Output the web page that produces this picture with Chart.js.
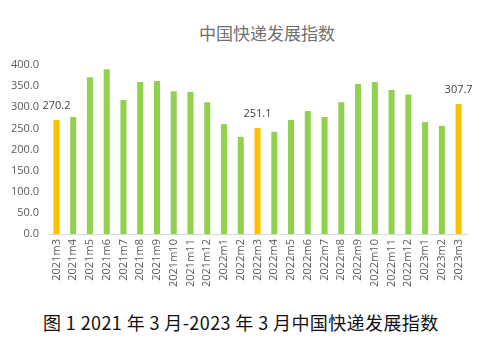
<!DOCTYPE html>
<html>
<head>
<meta charset="utf-8">
<script src="https://cdn.jsdelivr.net/npm/chart.js@4"></script>
<style>
  html, body { margin:0; padding:0; background:#fff; }
  #wrap { position:relative; width:494px; height:346px; overflow:hidden; }
  #box { position:absolute; left:0; top:0; width:494px; height:292px; }
  .ttl { position:absolute; left:0; width:100%; white-space:nowrap; font-family:"Noto Sans CJK SC", sans-serif; }
  #title { top:20px; padding-left:40px; box-sizing:border-box; text-align:center; font-size:17px; color:#707070; }
  #caption { top:309px; left:43px; font-size:18px; letter-spacing:0.4px; color:#111; }
</style>
</head>
<body>
<div id="wrap">
  <div id="title" class="ttl">中国快递发展指数</div>
  <div id="box"><canvas id="c"></canvas></div>
  <div id="caption" class="ttl">图 1 2021 年 3 月-2023 年 3 月中国快递发展指数</div>
</div>
<script>
// 月份标签
const months = [
  '2021m3','2021m4','2021m5','2021m6','2021m7','2021m8','2021m9','2021m10','2021m11','2021m12',
  '2022m1','2022m2','2022m3','2022m4','2022m5','2022m6','2022m7','2022m8','2022m9','2022m10',
  '2022m11','2022m12','2023m1','2023m2','2023m3'
];
// 快递发展指数
const indexValues = [
  270.2, 277, 371, 390, 317, 360, 362, 338, 336, 312,
  260, 230, 251.1, 242, 270, 291, 277, 312, 355, 360,
  341, 330, 265, 256, 307.7
];
// 每年3月高亮并标数值
const highlight = ['2021m3', '2022m3', '2023m3'];
const yTicks = [0, 50, 100, 150, 200, 250, 300, 350, 400];

const GREEN = '#92d050', GOLD = '#ffc000';
const barColors = months.map(m => highlight.includes(m) ? GOLD : GREEN);

// 只给高亮柱子写数值
const valueLabels = {
  id: 'valueLabels',
  afterDatasetsDraw(chart){
    const { ctx } = chart;
    const meta = chart.getDatasetMeta(0);
    ctx.save();
    ctx.font = '11px "Open Sans", sans-serif';
    ctx.fillStyle = '#404040';
    ctx.textAlign = 'center';
    ctx.textBaseline = 'middle';
    meta.data.forEach((bar, i) => {
      if (!highlight.includes(months[i])) return;
      ctx.fillText(indexValues[i].toFixed(1), bar.x, bar.y - 14);
    });
    ctx.restore();
  }
};

new Chart(document.getElementById('c'), {
  type: 'bar',
  data: {
    labels: months,
    datasets: [{
      data: indexValues,
      backgroundColor: barColors,
      barPercentage: 0.36,
      categoryPercentage: 1
    }]
  },
  options: {
    responsive: true,
    maintainAspectRatio: false,
    animation: false,
    layout: { padding: { top: 65, right: 27, left: 2, bottom: 0 } },
    plugins: { legend: { display: false }, tooltip: { enabled: false }, title: { display: false } },
    scales: {
      x: {
        grid: { display: false, drawTicks: false },
        border: { display: true, color: '#d9d9d9' },
        ticks: {
          color: '#595959', font: { size: 11, family: '"Open Sans", sans-serif' },
          minRotation: 90, maxRotation: 90, autoSkip: false, padding: 5
        }
      },
      y: {
        min: 0, max: 400,
        afterBuildTicks(axis){ axis.ticks = yTicks.map(v => ({ value: v })); },
        grid: { display: false, drawTicks: false },
        border: { display: false },
        ticks: {
          color: '#595959', font: { size: 11, family: '"Open Sans", sans-serif' },
          padding: 9,
          callback: v => Number(v).toFixed(1)
        }
      }
    }
  },
  plugins: [valueLabels]
});
</script>
</body>
</html>
